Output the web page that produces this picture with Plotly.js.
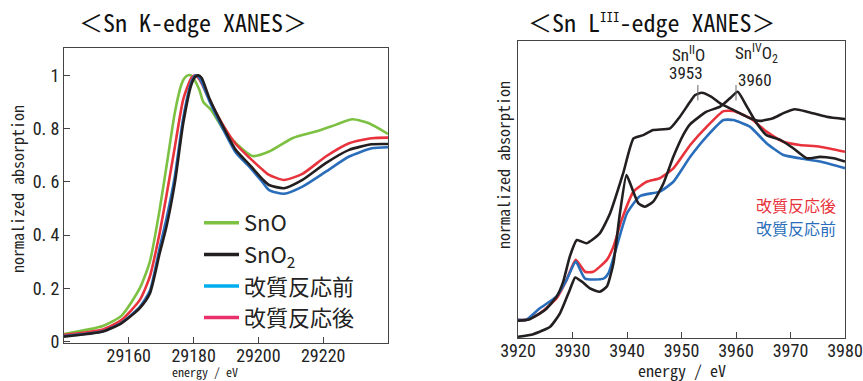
<!DOCTYPE html>
<html>
<head>
<meta charset="utf-8">
<script src="https://cdn.plot.ly/plotly-3.0.1.min.js"></script>
<style>
html,body{margin:0;padding:0;background:#fff;}
#chart{width:863px;height:381px;}
</style>
</head>
<body>
<div id="chart"></div>
<script>
// ---------- Sn K-edge XANES (left) ----------
const kEnergySnO = [29140, 29152, 29157.7, 29163.4, 29166.5, 29169.5, 29172.1, 29174.2, 29176.2, 29177.2, 29178.2, 29179.2, 29180.2, 29181.8, 29183, 29185.4, 29189, 29193.1, 29198.2, 29203.3, 29210.5, 29217.7, 29223.8, 29229, 29234.1, 29240];
const kSnO       = [0.028, 0.058, 0.096, 0.2, 0.30, 0.494, 0.695, 0.86, 0.965, 0.99, 1.0, 1.0, 0.985, 0.945, 0.9, 0.87, 0.80, 0.745, 0.697, 0.714, 0.764, 0.789, 0.814, 0.835, 0.82, 0.78];

const kEnergy = [29140, 29152, 29157.7, 29163.4, 29166.5, 29169.5, 29171.6, 29174.2, 29176.8, 29179.3, 29180.5, 29181.5, 29182.5, 29185, 29189, 29193, 29197.3, 29201.5, 29203.3, 29207.9, 29213.6, 29220.8, 29228, 29235, 29240];
const kSnO2   = [0.018, 0.037, 0.068, 0.125, 0.18, 0.33, 0.43, 0.595, 0.82, 0.965, 0.995, 1.0, 0.99, 0.91, 0.81, 0.72, 0.664, 0.607, 0.588, 0.576, 0.607, 0.67, 0.72, 0.741, 0.742];
const kBefore = [0.02, 0.038, 0.07, 0.13, 0.19, 0.35, 0.46, 0.62, 0.84, 0.975, 1.0, 0.995, 0.975, 0.90, 0.80, 0.71, 0.655, 0.595, 0.569, 0.555, 0.582, 0.638, 0.695, 0.726, 0.73];
const kAfter  = [0.025, 0.045, 0.08, 0.156, 0.244, 0.407, 0.547, 0.73, 0.91, 0.99, 1.0, 0.99, 0.97, 0.905, 0.815, 0.742, 0.69, 0.643, 0.626, 0.607, 0.63, 0.695, 0.745, 0.764, 0.766];

const kXTicks = [29160, 29180, 29200, 29220];
const kYTicks = [0, 0.2, 0.4, 0.6, 0.8, 1];
const kYTickText = ["0", "0. 2", "0. 4", "0. 6", "0. 8", "1"];

// ---------- Sn LIII-edge XANES (right) ----------
const lEnergySnO = [3920, 3922, 3925, 3927.1, 3928.3, 3929.5, 3930.8, 3932.6, 3935, 3936.9, 3939.3, 3941.2, 3943, 3944.8, 3947.9, 3949.7, 3951.6, 3952.5, 3953.7, 3955.5, 3957.1, 3959.5, 3962.6, 3964.4, 3966.8, 3968.7, 3970.8, 3973, 3976.6, 3980];
const lSnO       = [0.058, 0.062, 0.095, 0.14, 0.19, 0.274, 0.33, 0.319, 0.352, 0.42, 0.555, 0.672, 0.683, 0.7, 0.706, 0.745, 0.796, 0.818, 0.826, 0.812, 0.79, 0.768, 0.74, 0.731, 0.74, 0.757, 0.77, 0.762, 0.745, 0.737];

const lEnergySnO2 = [3920, 3922.8, 3925.9, 3927.7, 3929.5, 3930.5, 3931.7, 3933.2, 3935, 3936.3, 3937.5, 3938.7, 3939.9, 3940.8, 3942.1, 3943.3, 3944.8, 3946.7, 3948.5, 3950.3, 3951.6, 3954.6, 3957.1, 3958.9, 3960.3, 3962, 3963.8, 3965.6, 3968.1, 3970.5, 3973, 3975.4, 3977.9, 3980];
const lSnO2       = [0.004, 0.013, 0.038, 0.083, 0.162, 0.204, 0.19, 0.167, 0.156, 0.173, 0.251, 0.42, 0.549, 0.51, 0.453, 0.442, 0.459, 0.521, 0.61, 0.683, 0.72, 0.762, 0.779, 0.807, 0.829, 0.779, 0.723, 0.683, 0.667, 0.639, 0.605, 0.61, 0.605, 0.594];

const lEnergyAfter = [3920, 3921.5, 3924, 3927.1, 3928.9, 3930.6, 3932.3, 3933.8, 3936.3, 3937.5, 3939, 3941.2, 3943.6, 3946, 3948.5, 3951.6, 3954.6, 3957.7, 3959.5, 3962.6, 3965.6, 3968.7, 3971.7, 3975.4, 3980];
const lAfter       = [0.061, 0.061, 0.083, 0.134, 0.195, 0.263, 0.223, 0.223, 0.263, 0.307, 0.397, 0.493, 0.526, 0.538, 0.571, 0.65, 0.711, 0.764, 0.764, 0.74, 0.695, 0.661, 0.65, 0.644, 0.627];

const lEnergyBefore = [3920, 3921.5, 3924, 3927.1, 3928.9, 3930.6, 3932.3, 3935.7, 3936.6, 3938.1, 3940, 3942.4, 3946, 3948.5, 3951.6, 3954.6, 3957.7, 3959.5, 3962.6, 3965.6, 3968.7, 3971.7, 3975.4, 3980];
const lBefore       = [0.061, 0.061, 0.1, 0.14, 0.195, 0.257, 0.2, 0.2, 0.218, 0.307, 0.42, 0.478, 0.493, 0.526, 0.61, 0.678, 0.734, 0.734, 0.711, 0.656, 0.616, 0.605, 0.594, 0.572];

const lXTicks = [3920, 3930, 3940, 3950, 3960, 3970, 3980];
const peakEnergies = [3953, 3960];
const peakNames = ["Sn<sup>II</sup>O", "Sn<sup>IV</sup>O<sub>2</sub>"];

const legendNames = ["SnO", "SnO<sub>2</sub>", "改質反応前", "改質反応後"];

// ---------- styling ----------
const cGreen = "#7DC143", cBlack = "#231F20", cBlue = "#2A6EBB", cRed = "#E8333C";
const legendColors = ["#7DC143", "#231F20", "#00AEEF", "#E9306A"];
const tickFamily = "'Liberation Sans Narrow', 'Arial Narrow', 'Roboto Condensed', 'DejaVu Sans Condensed', sans-serif";
const monoFamily = "'Noto Sans Mono CJK JP', 'Noto Sans CJK JP', 'DejaVu Sans Mono', monospace";
const cjkFamily = "'Noto Sans CJK JP', sans-serif";
const lw = 2.6;

function line(x, y, color, xa, ya, smooth) {
  return {x: x, y: y, xaxis: xa, yaxis: ya, type: "scatter", mode: "lines",
          showlegend: false, hoverinfo: "skip",
          line: {color: color, width: lw, shape: "spline", smoothing: smooth}};
}

const traces = [
  line(kEnergySnO, kSnO, cGreen, "x", "y", 0.6),
  line(kEnergy, kAfter, cRed, "x", "y", 0.6),
  line(kEnergy, kBefore, cBlue, "x", "y", 0.6),
  line(kEnergy, kSnO2, cBlack, "x", "y", 0.6),
  line(lEnergyAfter, lAfter, cRed, "x2", "y2", 0.5),
  line(lEnergyBefore, lBefore, cBlue, "x2", "y2", 0.5),
  line(lEnergySnO, lSnO, cBlack, "x2", "y2", 0.5),
  line(lEnergySnO2, lSnO2, cBlack, "x2", "y2", 0.5)
];
// legend entries (legend colours differ slightly from the plotted lines in the original)
legendNames.forEach(function (n, i) {
  traces.push({x: [null], y: [null], xaxis: "x", yaxis: "y", type: "scatter", mode: "lines",
               name: n, showlegend: true, line: {color: legendColors[i], width: 3.5}});
});

const W = 863, H = 381;
const axisCommon = {showline: true, mirror: true, linecolor: "#444", linewidth: 1,
                    showgrid: false, zeroline: false, ticks: "inside", ticklen: 6,
                    tickcolor: "#444", tickwidth: 1, tickformat: "d",
                    ticklabelstandoff: -4,
                    tickfont: {family: tickFamily, size: 18, color: "#222"}};

function txt(t, px, py, size, family, color, extra) {
  return Object.assign({text: t, xref: "paper", yref: "paper", x: px / W, y: 1 - py / H,
                        xanchor: "center", yanchor: "middle", showarrow: false,
                        font: {family: family, size: size, color: color}}, extra || {});
}

const annotations = [
  txt("＜Sn K-edge XANES＞", 193, 22, 24, monoFamily, "#111"),
  txt("＜Sn L<sup><span style='font-size:13px'>III</span></sup>-edge XANES＞", 652, 22, 24, monoFamily, "#111"),
  txt("normalized absorption", 17, 189, 16, monoFamily, "#222", {textangle: -90}),
  txt("normalized absorption", 503, 165, 16, monoFamily, "#222", {textangle: -90}),
  txt("energy / eV", 205, 371, 12, monoFamily, "#222"),
  txt("energy / eV", 682, 370, 16, monoFamily, "#222"),
  txt("改質反応後", 838, 205, 16, cjkFamily, cRed, {xanchor: "right"}),
  txt("改質反応前", 838, 228, 16, cjkFamily, cBlue, {xanchor: "right"})
];
const peakLabelOffsets = [-1.8, 3.8];
const peakNameY = [54, 54];
const peakValueY = [73, 80];
peakEnergies.forEach(function (e, i) {
  annotations.push({text: peakNames[i], xref: "x2", yref: "paper", x: e + peakLabelOffsets[i],
                    y: 1 - peakNameY[i] / H, xanchor: "center", yanchor: "middle", showarrow: false,
                    font: {family: tickFamily, size: 17, color: "#222"}});
  annotations.push({text: String(e), xref: "x2", yref: "paper", x: e + peakLabelOffsets[i] - 0.3,
                    y: 1 - peakValueY[i] / H, xanchor: "center", yanchor: "middle", showarrow: false,
                    font: {family: tickFamily, size: 17, color: "#222"}});
});

const shapes = peakEnergies.map(function (e) {
  return {type: "line", xref: "x2", yref: "y2", x0: e, x1: e, y0: 0.80, y1: 0.852,
          line: {color: "#666", width: 1}};
});

const layout = {
  width: W, height: H,
  margin: {l: 0, r: 0, t: 0, b: 0},
  paper_bgcolor: "#fff", plot_bgcolor: "#fff",
  showlegend: true,
  legend: {x: 199 / W, y: 1 - 202 / H, xanchor: "left", yanchor: "top",
           bgcolor: "rgba(0,0,0,0)", borderwidth: 0, tracegroupgap: 0, itemwidth: 35,
           font: {family: cjkFamily, size: 22, color: "#222"}},
  xaxis: Object.assign({}, axisCommon, {domain: [64 / W, 388 / W], range: [29140, 29240],
                        tickvals: kXTicks, anchor: "y"}),
  yaxis: Object.assign({}, axisCommon, {domain: [1 - 343 / H, 1 - 48 / H], range: [-0.006, 1.103],
                        tickvals: kYTicks, ticktext: kYTickText, anchor: "x", ticklabelstandoff: 0}),
  xaxis2: Object.assign({}, axisCommon, {domain: [518 / W, 845 / W], range: [3920, 3980],
                         tickvals: lXTicks, anchor: "y2"}),
  yaxis2: Object.assign({}, axisCommon, {domain: [1 - 338 / H, 1 - 41 / H], range: [0, 1],
                         ticks: "", showticklabels: false, anchor: "x2"}),
  annotations: annotations,
  shapes: shapes
};

Plotly.newPlot("chart", traces, layout, {staticPlot: true, displayModeBar: false});
</script>
</body>
</html>
